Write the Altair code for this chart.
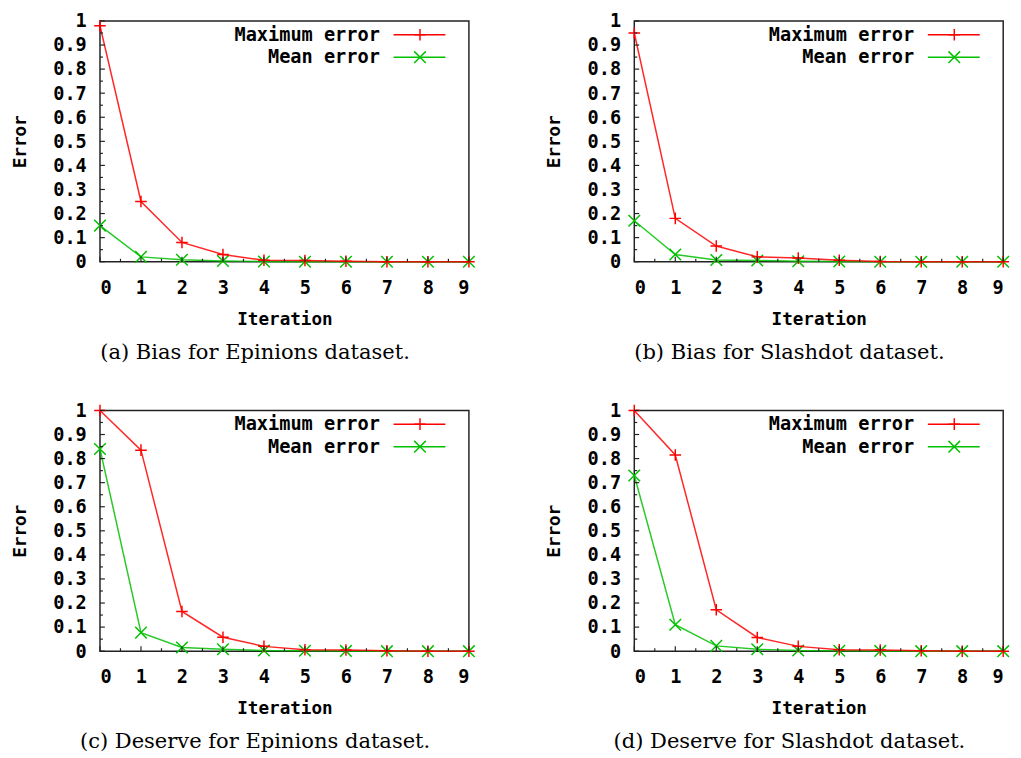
import altair as alt
import pandas as pd

ITER = [0, 1, 2, 3, 4, 5, 6, 7, 8, 9]
SERIES = ["Maximum error", "Mean error"]

A_MAX = [0.98, 0.25, 0.08, 0.03, 0.006, 0.005, 0.002, 0.0, 0.0, 0.0]
A_MEAN = [0.15, 0.02, 0.008, 0.003, 0.001, 0.0, 0.0, 0.0, 0.0, 0.0]
B_MAX = [0.95, 0.18, 0.065, 0.02, 0.015, 0.006, 0.001, 0.0, 0.0, 0.0]
B_MEAN = [0.17, 0.03, 0.007, 0.005, 0.002, 0.001, 0.0, 0.0, 0.0, 0.0]
C_MAX = [1.0, 0.835, 0.165, 0.058, 0.02, 0.006, 0.005, 0.002, 0.0, 0.0]
C_MEAN = [0.84, 0.077, 0.015, 0.008, 0.003, 0.002, 0.001, 0.0, 0.0, 0.0]
D_MAX = [1.0, 0.815, 0.172, 0.057, 0.02, 0.006, 0.005, 0.002, 0.0, 0.0]
D_MEAN = [0.73, 0.11, 0.022, 0.008, 0.003, 0.002, 0.001, 0.0, 0.0, 0.0]

CAPTIONS = [
    "(a) Bias for Epinions dataset.",
    "(b) Bias for Slashdot dataset.",
    "(c) Deserve for Epinions dataset.",
    "(d) Deserve for Slashdot dataset.",
]

Y_MAJOR = [0.0, 0.1, 0.2, 0.3, 0.4, 0.5, 0.6, 0.7, 0.8, 0.9, 1.0]
Y_MINOR = [0.05, 0.15, 0.25, 0.35, 0.45, 0.55, 0.65, 0.75, 0.85, 0.95]
X_MINOR = [0.5, 1.5, 2.5, 3.5, 4.5, 5.5, 6.5, 7.5, 8.5]

RED = "#ff0000"
GREEN = "#00c000"
MONO = "DejaVu Sans Mono"
PLUS = "M-1,0L1,0M0,-1L0,1"
CROSS = "M-1,-1L1,1M-1,1L1,-1"

W, H = 377, 246

xs = alt.Scale(domain=[0, 9], nice=False, zero=False)
ys = alt.Scale(domain=[0, 1], nice=False, zero=False)

X_AXIS = alt.Axis(
    values=ITER, format="d", title="Iteration", grid=False, domain=False,
    ticks=False, labelPadding=17, titlePadding=14,
    labelFont=MONO, labelFontWeight="bold", labelFontSize=19, labelColor="black",
    titleFont=MONO, titleFontWeight="bold", titleFontSize=18, titleColor="black")
Y_AXIS = alt.Axis(
    values=Y_MAJOR, format=".1~f", title="Error", grid=False, domain=False,
    ticks=False, labelPadding=14, titlePadding=24,
    labelFont=MONO, labelFontWeight="bold", labelFontSize=19, labelColor="black",
    titleFont=MONO, titleFontWeight="bold", titleFontSize=18, titleColor="black")


def panel(maxv, meanv, caption):
    df = pd.DataFrame({
        "Iteration": ITER * 2,
        "Error": maxv + meanv,
        "series": [SERIES[0]] * len(ITER) + [SERIES[1]] * len(ITER),
    })
    x_enc = alt.X("Iteration:Q", scale=xs, axis=X_AXIS)
    y_enc = alt.Y("Error:Q", scale=ys, axis=Y_AXIS)

    layers = []
    base = alt.Chart(df)
    for s, col, shp in ((SERIES[1], GREEN, CROSS), (SERIES[0], RED, PLUS)):
        sub = base.transform_filter(alt.datum.series == s)
        layers.append(sub.mark_line(color=col, strokeWidth=1.5, opacity=0.85).encode(
            x=x_enc, y=y_enc))
        layers.append(sub.mark_point(color=col, shape=shp, filled=False, size=140,
                                     strokeWidth=1.5, opacity=1).encode(
            x=x_enc, y=y_enc))

    # axis ticks drawn inward
    for vals, ln in ((Y_MAJOR, 5), (Y_MINOR, 3)):
        layers.append(alt.Chart(pd.DataFrame({"Error": vals})).mark_rule(
            color="#222", strokeWidth=1.2).encode(
            y=alt.Y("Error:Q", scale=ys, axis=Y_AXIS), x=alt.value(0), x2=alt.value(ln)))
    for vals, ln in ((ITER, 5), (X_MINOR, 3)):
        layers.append(alt.Chart(pd.DataFrame({"Iteration": vals})).mark_rule(
            color="#222", strokeWidth=1.2).encode(
            x=alt.X("Iteration:Q", scale=xs, axis=X_AXIS), y=alt.value(H), y2=alt.value(H - ln)))

    # legend (top-right, inside)
    for i, (s, col, shp) in enumerate(((SERIES[0], RED, PLUS), (SERIES[1], GREEN, CROSS))):
        yy = 14 + 23 * i
        ld = pd.DataFrame({"s": [s]})
        layers.append(alt.Chart(ld).mark_text(
            align="right", baseline="middle", font=MONO, fontWeight="bold",
            fontSize=19, color="black").encode(
            text="s:N", x=alt.value(286), y=alt.value(yy)))
        layers.append(alt.Chart(ld).mark_rule(color=col, strokeWidth=1.5).encode(
            x=alt.value(300), x2=alt.value(353), y=alt.value(yy)))
        layers.append(alt.Chart(ld).mark_point(
            color=col, shape=shp, filled=False, size=140, strokeWidth=1.5,
            opacity=1).encode(x=alt.value(327), y=alt.value(yy)))

    return alt.layer(*layers).properties(
        width=W, height=H,
        title=alt.TitleParams(caption, orient="bottom", font="DejaVu Serif",
                              fontSize=21.5, fontWeight="normal", color="black",
                              offset=14, anchor="middle", dx=-30))


pa = panel(A_MAX, A_MEAN, CAPTIONS[0])
pb = panel(B_MAX, B_MEAN, CAPTIONS[1])
pc = panel(C_MAX, C_MEAN, CAPTIONS[2])
pd_ = panel(D_MAX, D_MEAN, CAPTIONS[3])

chart = alt.vconcat(
    alt.hconcat(pa, pb, spacing=67),
    alt.hconcat(pc, pd_, spacing=67),
    spacing=37,
).properties(
    padding={"left": 2, "top": -5, "right": 0, "bottom": 0},
    background="white",
).configure_view(stroke="#222", strokeWidth=1.5)

chart.save("out.html", embed_options={"renderer": "svg", "actions": False})
